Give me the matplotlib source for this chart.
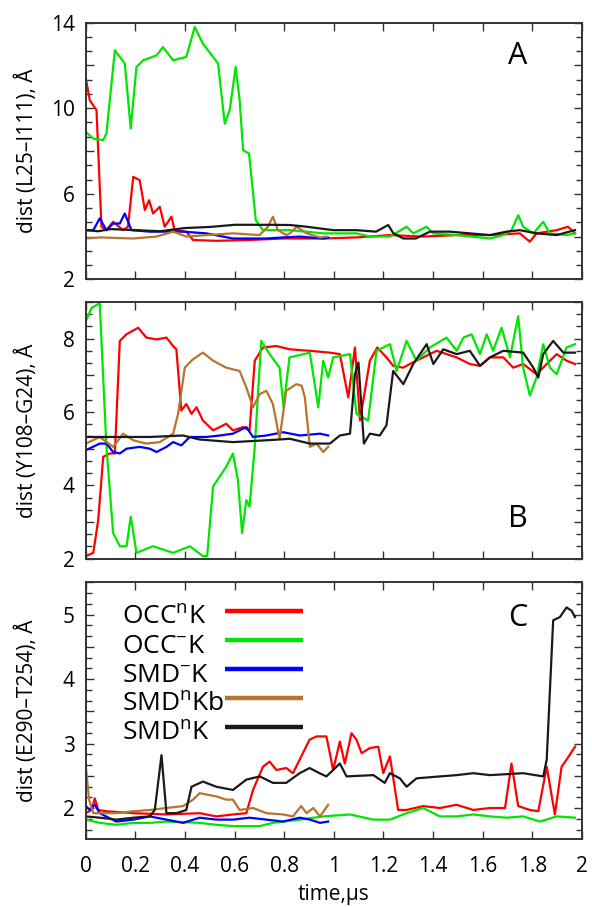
import matplotlib
matplotlib.use("Agg")
import matplotlib.pyplot as plt
from matplotlib.ticker import MultipleLocator, FuncFormatter

plt.rcParams["font.family"] = ["Open Sans", "DejaVu Sans"]
plt.rcParams["mathtext.fontset"] = "custom"
plt.rcParams["mathtext.rm"] = "Open Sans"
plt.rcParams["mathtext.it"] = "Open Sans"

# ---- panel A: dist (L25-I111) ----
occn_t_A = [0.0, 0.016, 0.043, 0.063, 0.083, 0.110, 0.150, 0.170, 0.191, 0.217, 0.238, 0.255,
            0.271, 0.298, 0.318, 0.345, 0.358, 0.405, 0.432, 0.526, 0.660, 0.795, 0.957, 1.09,
            1.226, 1.36, 1.495, 1.629, 1.75, 1.79, 1.817, 1.898, 1.944, 1.972]
occn_v_A = [11.39, 10.37, 9.91, 4.46, 4.30, 4.69, 4.30, 4.46, 6.79, 6.64, 5.24, 5.70,
            5.08, 5.39, 4.46, 4.93, 4.30, 4.23, 3.84, 3.80, 3.84, 3.91, 3.91, 3.96,
            4.07, 4.0, 4.07, 4.07, 4.15, 3.76, 4.15, 4.30, 4.46, 4.15]
occm_t_A = [0.0, 0.030, 0.070, 0.083, 0.117, 0.157, 0.181, 0.204, 0.231, 0.285, 0.311, 0.352,
            0.405, 0.439, 0.472, 0.513, 0.533, 0.560, 0.580, 0.604, 0.620, 0.634, 0.658, 0.685,
            0.714, 0.823, 0.957, 1.091, 1.145, 1.226, 1.293, 1.32, 1.374, 1.40, 1.495, 1.629,
            1.683, 1.716, 1.743, 1.763, 1.804, 1.844, 1.871, 1.938, 1.972]
occm_v_A = [8.89, 8.58, 8.51, 8.82, 12.71, 12.09, 9.05, 11.93, 12.24, 12.47, 12.86, 12.24,
            12.40, 13.8, 13.02, 12.40, 12.09, 9.28, 9.91, 11.93, 10.37, 8.04, 7.88, 4.77,
            4.30, 4.30, 4.15, 4.15, 4.0, 4.0, 4.46, 4.15, 4.46, 4.15, 4.07, 3.91,
            4.07, 4.30, 5.0, 4.46, 4.15, 4.69, 4.15, 4.07, 4.15]
smdm_t_A = [0.0, 0.03, 0.056, 0.083, 0.110, 0.137, 0.157, 0.184, 0.258, 0.392, 0.486, 0.593,
            0.728, 0.795, 0.863, 0.957, 0.977]
smdm_v_A = [4.30, 4.30, 4.85, 4.30, 4.61, 4.61, 5.08, 4.30, 4.23, 4.23, 4.15, 3.91,
            3.91, 3.96, 4.0, 3.91, 3.95]
smdnb_t_A = [0.0, 0.056, 0.191, 0.285, 0.352, 0.405, 0.486, 0.593, 0.70, 0.734, 0.754, 0.774,
             0.808, 0.823, 0.85, 0.89, 0.944, 0.97]
smdnb_v_A = [3.91, 3.96, 3.91, 4.0, 4.23, 4.0, 4.07, 4.15, 4.07, 4.46, 4.93, 4.30,
             4.07, 4.15, 4.46, 4.15, 3.96, 4.0]
smdn_t_A = [0.0, 0.05, 0.1, 0.2, 0.3, 0.4, 0.5, 0.6, 0.75, 0.823, 0.89, 0.997, 1.09, 1.17,
            1.219, 1.24, 1.28, 1.33, 1.387, 1.468, 1.548, 1.629, 1.696, 1.75, 1.817, 1.898, 1.972]
smdn_v_A = [4.30, 4.25, 4.35, 4.30, 4.25, 4.40, 4.45, 4.55, 4.55, 4.54, 4.46, 4.30, 4.30, 4.23,
            4.54, 4.15, 3.91, 3.91, 4.23, 4.23, 4.15, 4.07, 4.23, 4.30, 4.15, 4.07, 4.30]

# ---- panel B: dist (Y108-G24) ----
occn_t_B = [0.0, 0.030, 0.050, 0.070, 0.097, 0.117, 0.137, 0.164, 0.211, 0.244, 0.285, 0.325,
            0.352, 0.365, 0.385, 0.405, 0.426, 0.446, 0.472, 0.513, 0.566, 0.593, 0.634, 0.660,
            0.681, 0.714, 0.768, 0.823, 0.903, 0.984, 1.024, 1.058, 1.085, 1.105, 1.125, 1.145,
            1.175, 1.212, 1.239, 1.280, 1.306, 1.360, 1.414, 1.495, 1.548, 1.589, 1.629, 1.683,
            1.723, 1.763, 1.817, 1.858, 1.898, 1.938, 1.972]
occn_v_B = [2.07, 2.16, 3.06, 4.78, 4.87, 4.87, 7.94, 8.12, 8.30, 8.03, 7.98, 8.03,
            7.80, 7.71, 6.04, 6.22, 5.95, 6.13, 5.77, 5.50, 5.68, 5.50, 5.59, 5.50,
            7.40, 7.76, 7.80, 7.71, 7.67, 7.62, 7.58, 6.40, 7.76, 5.77, 6.58, 7.40,
            7.76, 7.49, 7.26, 7.21, 7.31, 7.49, 7.67, 7.49, 7.31, 7.26, 7.49, 7.49,
            7.21, 7.31, 7.03, 7.31, 7.58, 7.40, 7.31]
occm_t_B = [0.0, 0.023, 0.056, 0.083, 0.110, 0.137, 0.164, 0.181, 0.204, 0.271, 0.352, 0.419,
            0.472, 0.489, 0.513, 0.566, 0.593, 0.613, 0.630, 0.647, 0.660, 0.681, 0.707, 0.741,
            0.781, 0.797, 0.821, 0.903, 0.937, 0.957, 0.977, 0.997, 1.065, 1.091, 1.138, 1.172,
            1.226, 1.253, 1.293, 1.333, 1.387, 1.454, 1.495, 1.522, 1.555, 1.589, 1.616, 1.642,
            1.676, 1.710, 1.743, 1.763, 1.790, 1.817, 1.844, 1.871, 1.898, 1.938, 1.972]
occm_v_B = [8.48, 8.84, 8.97, 5.05, 2.70, 2.34, 2.34, 3.15, 2.16, 2.34, 2.16, 2.34,
            2.07, 2.07, 3.97, 4.51, 4.87, 4.15, 2.70, 3.60, 3.42, 5.05, 7.94, 7.58,
            7.21, 6.13, 7.49, 7.62, 6.13, 7.40, 6.94, 7.49, 7.58, 5.95, 5.77, 7.67,
            7.85, 7.12, 7.94, 7.40, 7.76, 8.03, 7.67, 8.03, 8.12, 7.58, 8.12, 7.67,
            8.30, 7.49, 8.61, 7.21, 6.45, 6.94, 7.85, 7.21, 7.03, 7.76, 7.85]
smdm_t_B = [0.0, 0.056, 0.083, 0.110, 0.137, 0.164, 0.217, 0.258, 0.285, 0.325, 0.352, 0.385,
            0.419, 0.486, 0.540, 0.593, 0.647, 0.674, 0.728, 0.795, 0.863, 0.944, 0.977]
smdm_v_B = [4.96, 5.14, 5.14, 4.91, 4.87, 5.00, 5.05, 5.00, 4.91, 5.05, 5.18, 5.09,
            5.32, 5.32, 5.36, 5.41, 5.59, 5.32, 5.36, 5.45, 5.36, 5.41, 5.36]
smdnb_t_B = [0.0, 0.056, 0.110, 0.150, 0.191, 0.244, 0.298, 0.352, 0.372, 0.399, 0.432, 0.472,
             0.513, 0.566, 0.620, 0.647, 0.674, 0.701, 0.728, 0.754, 0.781, 0.808, 0.848, 0.870,
             0.883, 0.903, 0.930, 0.957, 0.977]
smdnb_v_B = [5.14, 5.32, 5.05, 5.41, 5.23, 5.14, 5.18, 5.41, 5.95, 7.21, 7.44, 7.62,
             7.40, 7.21, 7.12, 6.67, 6.13, 6.49, 6.58, 6.22, 5.27, 6.58, 6.76, 6.72,
             6.40, 5.05, 5.14, 4.91, 5.05]
smdn_t_B = [0.0, 0.123, 0.258, 0.392, 0.459, 0.593, 0.728, 0.823, 0.903, 0.984, 1.024, 1.065,
            1.085, 1.099, 1.121, 1.145, 1.185, 1.212, 1.239, 1.280, 1.320, 1.374, 1.401, 1.441,
            1.495, 1.548, 1.589, 1.629, 1.683, 1.763, 1.804, 1.824, 1.844, 1.884, 1.925, 1.972]
smdn_v_B = [5.32, 5.32, 5.32, 5.36, 5.25, 5.18, 5.23, 5.27, 5.14, 5.14, 5.36, 5.41,
            7.03, 7.35, 5.14, 5.41, 5.36, 5.64, 7.12, 6.76, 7.31, 7.85, 7.31, 7.71,
            7.58, 7.67, 7.26, 7.49, 7.67, 7.62, 7.21, 6.94, 7.58, 7.94, 7.62, 7.62]

# ---- panel C: dist (E290-T254) ----
occn_t_C = [0.0, 0.023, 0.036, 0.050, 0.083, 0.191, 0.325, 0.459, 0.526, 0.593, 0.647, 0.674,
            0.714, 0.741, 0.768, 0.808, 0.835, 0.875, 0.902, 0.930, 0.970, 0.997, 1.024, 1.044,
            1.071, 1.091, 1.112, 1.145, 1.179, 1.199, 1.226, 1.259, 1.293, 1.360, 1.427, 1.495,
            1.562, 1.629, 1.690, 1.716, 1.743, 1.790, 1.824, 1.858, 1.891, 1.918, 1.938, 1.972]
occn_v_C = [1.92, 1.97, 2.15, 1.97, 1.95, 1.92, 1.90, 1.92, 1.87, 1.90, 1.92, 2.28,
            2.64, 2.72, 2.59, 2.62, 2.54, 2.85, 3.06, 3.11, 3.11, 2.59, 3.03, 2.69,
            3.16, 3.06, 2.85, 2.93, 2.95, 2.54, 2.80, 1.97, 1.97, 2.03, 2.0, 2.05,
            1.97, 2.0, 2.0, 2.69, 2.03, 1.97, 1.95, 2.64, 1.90, 2.64, 2.75, 2.95]
occm_t_C = [0.0, 0.056, 0.123, 0.191, 0.258, 0.325, 0.459, 0.526, 0.593, 0.701, 0.754, 0.862,
            0.957, 1.065, 1.159, 1.226, 1.293, 1.360, 1.427, 1.495, 1.562, 1.629, 1.696, 1.763,
            1.831, 1.898, 1.972]
occm_v_C = [1.82, 1.77, 1.74, 1.77, 1.77, 1.79, 1.77, 1.74, 1.72, 1.72, 1.77, 1.82,
            1.87, 1.90, 1.82, 1.82, 1.92, 2.00, 1.87, 1.87, 1.90, 1.87, 1.85, 1.87,
            1.79, 1.87, 1.85]
smdm_t_C = [0.0, 0.016, 0.036, 0.056, 0.123, 0.191, 0.258, 0.325, 0.392, 0.459, 0.526, 0.593,
            0.660, 0.728, 0.795, 0.862, 0.903, 0.944, 0.977]
smdm_v_C = [2.03, 1.97, 2.05, 1.92, 1.79, 1.82, 1.87, 1.82, 1.77, 1.85, 1.82, 1.82,
            1.85, 1.82, 1.79, 1.85, 1.82, 1.77, 1.79]
smdnb_t_C = [0.0, 0.013, 0.030, 0.123, 0.191, 0.258, 0.325, 0.392, 0.432, 0.459, 0.526, 0.566,
             0.593, 0.620, 0.674, 0.728, 0.795, 0.835, 0.868, 0.890, 0.917, 0.944, 0.977]
smdnb_v_C = [2.64, 2.13, 1.92, 1.92, 1.95, 1.97, 2.00, 2.03, 2.13, 2.23, 2.18, 2.13,
             2.13, 1.97, 2.0, 1.92, 1.90, 1.87, 2.03, 1.92, 2.0, 1.87, 2.05]
smdn_t_C = [0.0, 0.056, 0.123, 0.191, 0.258, 0.278, 0.305, 0.325, 0.365, 0.405, 0.426, 0.472,
            0.526, 0.593, 0.647, 0.701, 0.754, 0.808, 0.862, 0.902, 0.942, 0.970, 1.024, 1.051,
            1.159, 1.205, 1.226, 1.266, 1.293, 1.333, 1.427, 1.495, 1.562, 1.629, 1.763, 1.844,
            1.858, 1.884, 1.911, 1.938, 1.958, 1.972]
smdn_v_C = [1.87, 1.85, 1.82, 1.85, 1.87, 1.97, 2.82, 1.92, 1.92, 1.97, 2.33, 2.41,
            2.33, 2.28, 2.44, 2.49, 2.39, 2.39, 2.54, 2.62, 2.54, 2.49, 2.69, 2.49,
            2.51, 2.39, 2.54, 2.46, 2.33, 2.46, 2.49, 2.51, 2.54, 2.51, 2.54, 2.49,
            2.75, 4.91, 4.96, 5.11, 5.06, 4.96]

labels = ["OCC$^{\\mathrm{n}}$K", "OCC$^{-}$K", "SMD$^{-}$K", "SMD$^{\\mathrm{n}}$Kb",
          "SMD$^{\\mathrm{n}}$K"]
colors = ["#ff0000", "#00e600", "#0000ff", "#b8732f", "#1a1a1a"]

panels = [
    dict(series=[(occn_t_A, occn_v_A), (occm_t_A, occm_v_A), (smdm_t_A, smdm_v_A),
                 (smdnb_t_A, smdnb_v_A), (smdn_t_A, smdn_v_A)],
         ylim=(2, 14), major=2, minor=2 / 3, labstep=4, lab0=2,
         ylabel="dist (L25\u2013I111), \u00c5", letter="A", lety=0.87, rect=[0.145, 0.692, 0.838, 0.283]),
    dict(series=[(occn_t_B, occn_v_B), (occm_t_B, occm_v_B), (smdm_t_B, smdm_v_B),
                 (smdnb_t_B, smdnb_v_B), (smdn_t_B, smdn_v_B)],
         ylim=(2, 9), major=1, minor=1 / 3, labstep=2, lab0=2,
         ylabel="dist (Y108\u2013G24), \u00c5", letter="B", lety=0.155, rect=[0.145, 0.384, 0.838, 0.283]),
    dict(series=[(occn_t_C, occn_v_C), (occm_t_C, occm_v_C), (smdm_t_C, smdm_v_C),
                 (smdnb_t_C, smdnb_v_C), (smdn_t_C, smdn_v_C)],
         ylim=(1.52, 5.5), major=0.5, minor=1 / 6, labstep=1, lab0=2,
         ylabel="dist (E290\u2013T254), \u00c5", letter="C", lety=0.86, rect=[0.145, 0.075, 0.838, 0.283]),
]

fig = plt.figure(figsize=(5.92, 9.07), dpi=100)

for i, p in enumerate(panels):
    ax = fig.add_axes(p["rect"])
    for (t, v), c in zip(p["series"], colors):
        ax.plot(t, v, color=c, lw=1.6)
    ax.set_xlim(0, 2)
    ax.set_ylim(*p["ylim"])
    ax.xaxis.set_major_locator(MultipleLocator(0.2))
    ax.yaxis.set_major_locator(MultipleLocator(p["major"]))
    ax.yaxis.set_minor_locator(MultipleLocator(p["minor"]))
    step, base = p["labstep"], p["lab0"]

    def yfmt(v, pos, step=step, base=base):
        k = (v - base) / step
        if abs(k - round(k)) < 1e-6:
            return "%g" % v
        return ""
    ax.yaxis.set_major_formatter(FuncFormatter(yfmt))
    ax.xaxis.set_major_formatter(FuncFormatter(lambda v, pos: "%g" % round(v, 1)))
    ax.tick_params(which="both", direction="in", top=True, right=True, labelsize=15,
                   color="#333333", width=1.0)
    ax.tick_params(which="major", length=6)
    ax.tick_params(which="minor", length=4)
    ax.tick_params(axis="y", pad=8)
    ax.tick_params(axis="x", pad=12)
    for s in ax.spines.values():
        s.set_linewidth(1.4)
        s.set_color("#333333")
    ax.set_ylabel(p["ylabel"], fontsize=15)
    ax.yaxis.set_label_coords(-0.097, 0.5)
    ax.text(0.87, p["lety"], p["letter"], transform=ax.transAxes, fontsize=22,
            ha="center", va="center")
    if i < 2:
        ax.tick_params(axis="x", labelbottom=False)
    else:
        ax.set_xlabel("time,\u00b5s", fontsize=15, labelpad=5)
        # key drawn by hand: gnuplot style, left-aligned text then sample line
        for k, (lab, c) in enumerate(zip(labels, colors)):
            yl = 0.887 - k * 0.1128
            ax.text(0.073, yl - 0.05, lab, transform=ax.transAxes, fontsize=19,
                    ha="left", va="baseline")
            ax.plot([0.280, 0.4375], [yl, yl], transform=ax.transAxes, color=c, lw=3.2,
                    solid_capstyle="butt")

fig.savefig("out.png", dpi=100)
